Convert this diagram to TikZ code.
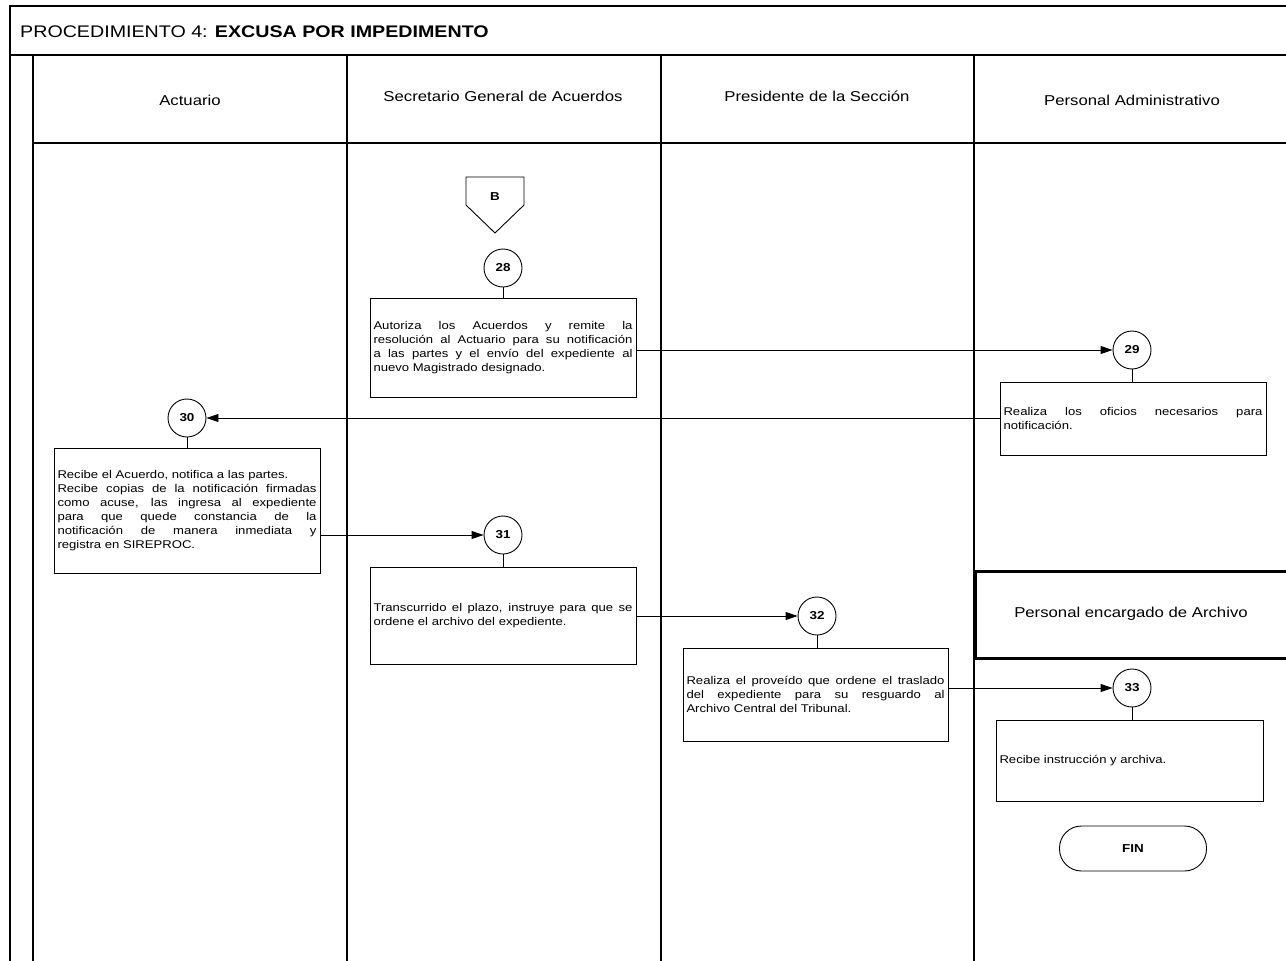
\documentclass[tikz,border=0pt]{standalone}
\usepackage{fontspec}
\setmainfont[FakeStretch=1.17]{Liberation Sans}
\usetikzlibrary{arrows.meta,shapes.geometric}
\newcommand\boxfont{\fontsize{11.2}{14}\selectfont\hyphenpenalty=10000 \exhyphenpenalty=10000 \tolerance=9999 \hbadness=10000 \hfuzz=3pt\relax}
\begin{document}
\begin{tikzpicture}[x=1pt,y=-1pt,
  frame/.style={line width=2pt, line cap=rect},
  lanehead/.style={font=\fontsize{14.3}{17}\selectfont},
  proc/.style={draw, line width=0.9pt, inner sep=3.5pt, align=justify, font=\boxfont},
  num/.style={draw, circle, line width=0.9pt, minimum size=38pt, inner sep=0pt,
    font=\fontsize{11.5}{13}\selectfont\bfseries},
  link/.style={line width=0.9pt},
  arr/.style={line width=0.9pt, -{Triangle[length=12pt,width=8pt]}}]
\useasboundingbox (0,0) rectangle (1286,961);
% frame
\draw[frame] (10,961) -- (10,6) -- (1290,6);
\draw[frame] (10,55) -- (1290,55);
\draw[frame] (33,55) -- (33,961);
\draw[frame] (33,143) -- (1290,143);
\foreach \x in {347,661,974} \draw[frame] (\x,55) -- (\x,961);
\node[anchor=base west, inner sep=0pt, font=\fontsize{16.8}{20}\selectfont] (title) at (20,37)
  {PROCEDIMIENTO 4: \textbf{EXCUSA POR IMPEDIMENTO}};
% lane headers
\node[lanehead] (h1) at (190,100) {Actuario};
\node[lanehead] (h2) at (503,96) {Secretario General de Acuerdos};
\node[lanehead] (h3) at (817,96) {Presidente de la Sección};
\node[lanehead] (h4) at (1132,100) {Personal Administrativo};
\node[draw, line width=2.5pt, minimum width=320pt, minimum height=87pt, anchor=north west] (h5) at (974,570) {};
\node[lanehead] (h5t) at (1131,614) {Personal encargado de Archivo};
% off-page connector B
\draw[line width=0.9pt] (466,177) -- (524,177) -- (524,205) -- (495,233) -- (466,205) -- cycle;
\node[font=\fontsize{11.5}{13}\selectfont\bfseries] (B) at (495,197) {B};
% circles
\node[num] (c28) at (503,268) {28};
\node[num] (c29) at (1132,350) {29};
\node[num] (c30) at (187,418) {30};
\node[num] (c31) at (503,535) {31};
\node[num] (c32) at (817,616) {32};
\node[num] (c33) at (1132,688) {33};
% boxes
\node[proc, minimum width=266pt, minimum height=99pt, text width=259pt] (b28) at (503,347.5)
  {Autoriza los Acuerdos y remite la\linebreak resolución al Actuario para su notificación\linebreak a las partes y el envío del expediente al\linebreak nuevo Magistrado designado.};
\node[proc, minimum width=266pt, minimum height=73pt, text width=259pt] (b29) at (1133,418.5)
  {Realiza los oficios necesarios para\linebreak notificación.};
\node[proc, minimum width=266pt, minimum height=125pt, text width=259pt] (b30) at (187,510.5)
  {Recibe el Acuerdo, notifica a las partes.\newline Recibe copias de la notificación firmadas\linebreak como acuse, las ingresa al expediente\linebreak para que quede constancia de la\linebreak notificación de manera inmediata y\linebreak registra en SIREPROC.};
\node[proc, minimum width=266pt, minimum height=97pt, text width=259pt] (b31) at (503,615.5)
  {Transcurrido el plazo, instruye para que se\linebreak ordene el archivo del expediente.};
\node[proc, minimum width=265pt, minimum height=93pt, text width=258pt] (b32) at (815.5,694.5)
  {Realiza el proveído que ordene el traslado\linebreak del expediente para su resguardo al\linebreak Archivo Central del Tribunal.};
\node[proc, minimum width=267pt, minimum height=81pt, text width=260pt] (b33) at (1129.5,760.5)
  {Recibe instrucción y archiva.};
% end
\node[draw, line width=0.9pt, rounded corners=22pt, minimum width=147pt, minimum height=45pt,
  font=\fontsize{11.5}{13}\selectfont\bfseries] (fin) at (1133,848.5) {FIN};
% connectors
\draw[link] (c28.south) -- (c28.south |- b28.north);
\draw[link] (c29.south) -- (c29.south |- b29.north);
\draw[link] (c30.south) -- (c30.south |- b30.north);
\draw[link] (c31.south) -- (c31.south |- b31.north);
\draw[link] (c32.south) -- (c32.south |- b32.north);
\draw[link] (c33.south) -- (c33.south |- b33.north);
\draw[arr] (c29.west -| b28.east) -- (c29.west);
\draw[arr] (c30.east -| b29.west) -- (c30.east);
\draw[arr] (c31.west -| b30.east) -- (c31.west);
\draw[arr] (c32.west -| b31.east) -- (c32.west);
\draw[arr] (c33.west -| b32.east) -- (c33.west);
\end{tikzpicture}
\end{document}
